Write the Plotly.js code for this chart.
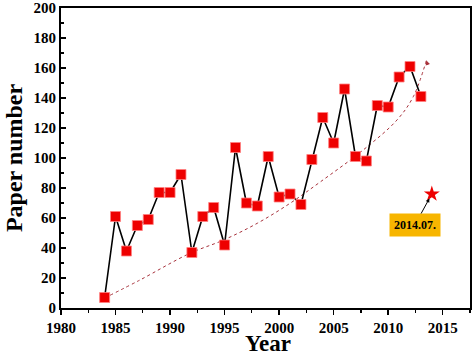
<!DOCTYPE html>
<html>
<head>
<meta charset="utf-8">
<script src="https://cdn.plot.ly/plotly-3.0.1.min.js"></script>
<style>html,body{margin:0;padding:0;background:#fff;}#chart{width:473px;height:357px;}</style>
</head>
<body>
<div id="chart"></div>
<script>
var years = [1984,1985,1986,1987,1988,1989,1990,1991,1992,1993,1994,1995,1996,1997,1998,1999,2000,2001,2002,2003,2004,2005,2006,2007,2008,2009,2010,2011,2012,2013];
var papers = [7,61,38,55,59,77,77,89,37,61,67,42,107,70,68,101,74,76,69,99,127,110,146,101,98,135,134,154,161,141];
var partialYear = [2014];
var partialPapers = [76];
var partialLabel = "2014.07.";
var trendYears = [1984.5,1987.25,1991.8,1994.9,1998,2001,2003.8,2007.7,2010.8,2012.3,2013.5];
var trendValues = [8.5,18.7,36.4,45.3,56.5,69.8,84.2,105.3,125.3,140.9,165];
var xTicks = [1980,1985,1990,1995,2000,2005,2010,2015];
var yTicks = [0,20,40,60,80,100,120,140,160,180,200];

var serif = "Liberation Serif";
var n = trendYears.length;

var data = [
  {x: trendYears, y: trendValues, mode: 'lines', type: 'scatter',
   line: {color: '#a8323c', width: 1, dash: 'dot', shape: 'spline'}, hoverinfo: 'skip'},
  {x: years, y: papers, mode: 'lines+markers', type: 'scatter',
   line: {color: '#000', width: 1.6},
   marker: {symbol: 'square', size: 10, color: '#ee0000', line: {color: '#ff8080', width: 0.8}}},
  {x: partialYear, y: partialPapers, mode: 'markers', type: 'scatter',
   marker: {symbol: 'star', size: 12, color: '#ee0000', line: {width: 0}}}
];

var layout = {
  width: 473, height: 357,
  margin: {l: 61, r: 3, t: 8, b: 49},
  paper_bgcolor: '#fff', plot_bgcolor: '#fff',
  showlegend: false,
  font: {family: serif, color: '#000'},
  xaxis: {
    range: [1980, 2017.5], tickvals: xTicks, ticktext: xTicks.map(function(v){return '<b>' + v + '</b>';}),
    ticks: 'outside', ticklen: 5, tickwidth: 1.5, tickcolor: '#000',
    minor: {dtick: 2.5, tick0: 1980, ticks: 'outside', ticklen: 3, tickwidth: 1.2, tickcolor: '#000'},
    showline: true, linecolor: '#000', linewidth: 2, mirror: true,
    showgrid: false, zeroline: false,
    tickfont: {family: serif, size: 15, color: '#000'}
  },
  yaxis: {
    range: [0, 200], tickvals: yTicks, ticktext: yTicks.map(function(v){return '<b>' + v + '</b>';}),
    ticks: 'inside', ticklen: 5, tickwidth: 1.5, tickcolor: '#000',
    minor: {dtick: 10, tick0: 0, ticks: 'inside', ticklen: 3, tickwidth: 1.2, tickcolor: '#000'},
    showline: true, linecolor: '#000', linewidth: 2, mirror: true,
    showgrid: false, zeroline: false,
    tickfont: {family: serif, size: 15, color: '#000'},
    title: {text: '<b>Paper number</b>', font: {family: serif, size: 24, color: '#000'}, standoff: 4}
  },
  annotations: [
    {x: 0.505, y: -0.1633, xref: 'paper', yref: 'paper', xanchor: 'center', yanchor: 'bottom',
     text: '<b>Year</b>', showarrow: false, borderpad: 0,
     font: {family: serif, size: 23, color: '#000'}},
    {x: partialYear[0], y: partialPapers[0], xref: 'x', yref: 'y',
     text: '<b>' + partialLabel + '</b>', showarrow: true,
     ax: -17, ay: 31, arrowhead: 2, arrowsize: 0.8, arrowwidth: 1, arrowcolor: '#000',
     standoff: 5, bgcolor: '#f7b500', borderpad: 4,
     font: {family: serif, size: 12, color: '#000'}},
    {x: trendYears[n-1], y: trendValues[n-1], xref: 'x', yref: 'y',
     ax: 2, ay: 6,
     text: '', showarrow: true, arrowhead: 2, arrowsize: 0.9, arrowwidth: 1,
     arrowcolor: '#a8323c'}
  ]
};

Plotly.newPlot('chart', data, layout, {displayModeBar: false, staticPlot: true});
</script>
</body>
</html>
